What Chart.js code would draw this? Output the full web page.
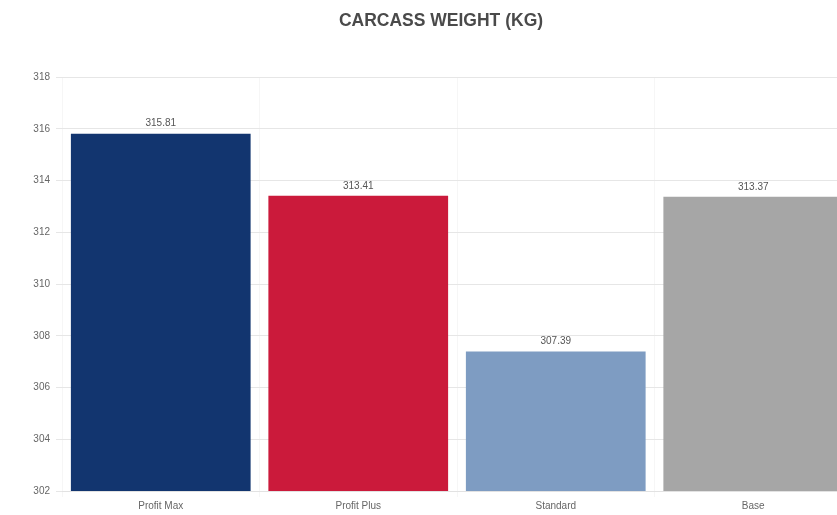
<!DOCTYPE html>
<html>
<head>
<meta charset="utf-8">
<title>Carcass Weight</title>
<script src="https://cdn.jsdelivr.net/npm/chart.js@4"></script>
<style>
    html, body { margin: 0; padding: 0; background: #fff; overflow: hidden; }
    #wrap { width: 837px; height: 515px; overflow: hidden; }
</style>
</head>
<body>
<div id="wrap">
    <canvas id="carcassChart" width="890" height="515"></canvas>
</div>
<script>
// Chart data
const categories = ['Profit Max', 'Profit Plus', 'Standard', 'Base'];
const weights = [315.81, 313.41, 307.39, 313.37];
const barColors = ['#12356f', '#cb1a3b', '#7e9cc2', '#a6a6a6'];
const yMin = 302;
const yMax = 318;
const yStep = 2;

const fontFamily = '"Liberation Sans", Arial, sans-serif';

// Value labels on top of bars
const valueLabels = {
    id: 'valueLabels',
    afterDatasetsDraw(chart) {
        const ctx = chart.ctx;
        const meta = chart.getDatasetMeta(0);
        ctx.save();
        ctx.font = '10px ' + fontFamily;
        ctx.fillStyle = '#555';
        ctx.textAlign = 'center';
        ctx.textBaseline = 'bottom';
        meta.data.forEach((bar, i) => {
            ctx.fillText(weights[i].toFixed(2), bar.x, bar.y - 5);
        });
        ctx.restore();
    }
};

const ctx = document.getElementById('carcassChart').getContext('2d');
const carcassChart = new Chart(ctx, {
    type: 'bar',
    data: {
        labels: categories,
        datasets: [{
            data: weights,
            backgroundColor: barColors,
            barPercentage: 0.91,
            categoryPercentage: 1.0
        }]
    },
    options: {
        responsive: false,
        animation: false,
        layout: {
            padding: { left: 30, right: 38, bottom: 0, top: 0 }
        },
        plugins: {
            legend: { display: false },
            tooltip: { enabled: false },
            title: {
                display: true,
                text: 'CARCASS WEIGHT (KG)',
                color: '#4a4a4a',
                font: { family: fontFamily, size: 17.5, weight: 'bold' },
                padding: { top: 11, bottom: 45 }
            }
        },
        scales: {
            x: {
                grid: {
                    display: true,
                    color: 'rgba(0,0,0,0.035)',
                    tickLength: 6
                },
                border: { color: '#e2e2e2' },
                ticks: {
                    color: '#666',
                    font: { family: fontFamily, size: 10 },
                    padding: 3
                }
            },
            y: {
                min: yMin,
                max: yMax,
                afterFit(scale) { scale.width = 32; },
                grid: {
                    color: '#e6e6e6',
                    tickLength: 6
                },
                border: { display: false },
                ticks: {
                    stepSize: yStep,
                    color: '#666',
                    font: { family: fontFamily, size: 10 },
                    padding: 6
                }
            }
        }
    },
    plugins: [valueLabels]
});
</script>
</body>
</html>
